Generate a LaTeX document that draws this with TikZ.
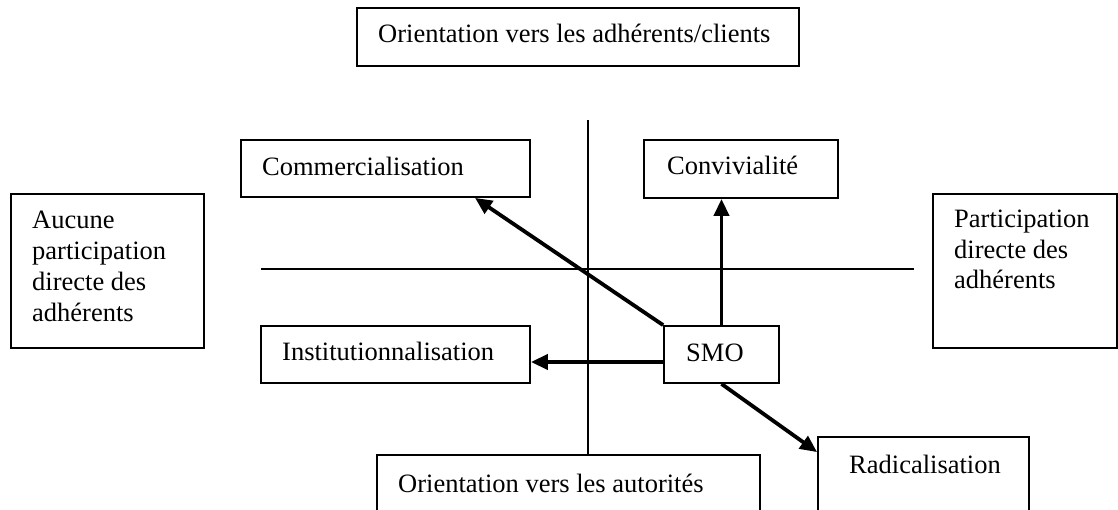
\documentclass[tikz,border=0pt]{standalone}
\usepackage{fontspec}
\setmainfont{Liberation Serif}
\usetikzlibrary{arrows.meta}
\tikzset{
  box/.style={draw, fill=white, line width=1.8pt, inner sep=0pt, minimum width=#1},
  txt/.style={inner sep=0pt, anchor=base west, font=\fontsize{26.5}{30.7}\selectfont, align=left},
  axis/.style={line width=1.8pt},
  arr/.style={line width=3.8pt, -{Triangle[length=17pt,width=15pt]}}
}
\begin{document}
\begin{tikzpicture}[x=1pt,y=-1pt]
\useasboundingbox (0,0) rectangle (1118,510);
\clip (0,0) rectangle (1118,510);
\fill[white] (0,0) rectangle (1118,510);
% axes
\coordinate (vtop) at (588,120);
\coordinate (vbot) at (588,483);
\coordinate (hl) at (261,269);
\coordinate (hr) at (914,269);
\draw[axis] (vtop) -- (vbot);
\draw[axis] (hl) -- (hr);
% boxes
\node[box=442pt, minimum height=58pt] (top) at (578,37) {};
\node[box=289pt, minimum height=57pt] (comm) at (385.5,168.5) {};
\node[box=194pt, minimum height=58pt] (conv) at (741,169) {};
\node[box=193pt, minimum height=154pt] (left) at (107.5,271) {};
\node[box=184pt, minimum height=154pt] (right) at (1025,271) {};
\node[box=269pt, minimum height=57pt] (inst) at (395.5,354.5) {};
\node[box=115pt, minimum height=57pt] (smo) at (721.5,354.5) {};
\node[box=211pt, minimum height=103pt] (rad) at (923.5,488.5) {};
\node[box=383pt, minimum height=85pt] (aut) at (568.5,497.5) {};
% texts
\node[txt] (toptxt) at (378,43) {Orientation vers les adhérents/clients};
\node[txt] (commtxt) at (262,176) {Commercialisation};
\node[txt] (convtxt) at (667,175) {Convivialité};
\node[txt] (lefttxt) at (32,321) {Aucune\\participation\\directe des\\adhérents};
\node[txt] (righttxt) at (954,289) {Participation\\directe des\\adhérents};
\node[txt] (insttxt) at (282,360) {Institutionnalisation};
\node[txt] (smotxt) at (686,361) {SMO};
\node[txt] (radtxt) at (849,473) {Radicalisation};
\node[txt] (auttxt) at (398,492) {Orientation vers les autorités};
% arrows
\draw[arr] (smo.north west) -- ([xshift=89.5pt]comm.south);
\draw[arr] (smo.north) -- (smo.north |- conv.south);
\draw[arr] ([yshift=-7.5pt]smo.west) -- ([yshift=-7.5pt]inst.east);
\draw[arr] (smo.south) -- ([yshift=-16pt]rad.north west);
\end{tikzpicture}
\end{document}
